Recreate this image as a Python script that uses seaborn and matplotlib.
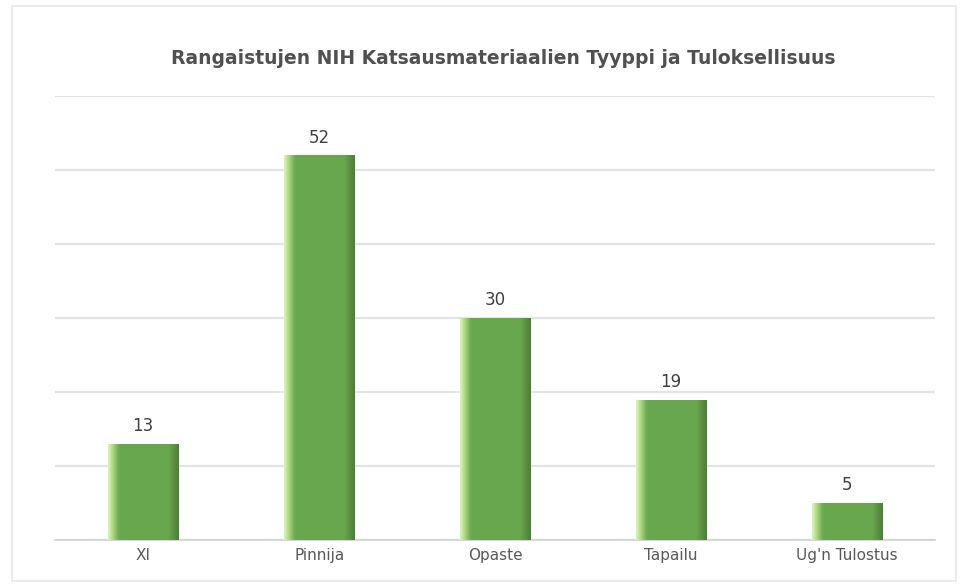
import matplotlib
matplotlib.use("Agg")
import matplotlib.pyplot as plt
from matplotlib.patches import Rectangle
import numpy as np
import pandas as pd
import seaborn as sns

categories = ["XI", "Pinnija", "Opaste", "Tapailu", "Ug'n Tulostus"]
values = [13, 52, 30, 19, 5]
title = "Rangaistujen NIH Katsausmateriaalien Tyyppi ja Tuloksellisuus"

sns.set_theme(style="white")
plt.rcParams["font.family"] = ["DejaVu Sans"]

df = pd.DataFrame({"category": categories, "value": values})

fig = plt.figure(figsize=(9.68, 5.87), dpi=100)
ax = fig.add_axes([0.057, 0.080, 0.909, 0.756])

sns.barplot(data=df, x="category", y="value", color="#6aa84f",
            width=0.4, saturation=1, ax=ax, zorder=3)

# soft cylinder-like shading across each bar
cmap = matplotlib.colors.LinearSegmentedColormap.from_list(
    "barshade", ["#d9f7a8", "#6aa84f", "#4f7f3a"])
grad = np.linspace(0, 1, 64)
grad = np.where(grad < 0.15, grad / 0.15 * 0.5,
                np.where(grad > 0.85, 0.5 + (grad - 0.85) / 0.15 * 0.5, 0.5))
for patch in ax.patches:
    x0, y0 = patch.get_x(), patch.get_y()
    w, h = patch.get_width(), patch.get_height()
    im = ax.imshow(grad[np.newaxis, :], cmap=cmap, aspect="auto",
                   extent=(x0, x0 + w, y0, y0 + h), zorder=4,
                   interpolation="bicubic")
    im.set_clip_path(patch)

ax.set_xlim(-0.5, len(categories) - 0.5)
ax.set_ylim(0, 60)
ax.set_yticks(np.arange(0, 61, 10))
ax.set_yticklabels([])
ax.tick_params(axis="y", length=0)
ax.yaxis.grid(True, color="#e3e3e3", linewidth=1.6, zorder=0)
ax.set_axisbelow(True)
for side in ["top", "right", "left"]:
    ax.spines[side].set_visible(False)
ax.spines["bottom"].set_color("#d0d0d0")
ax.spines["bottom"].set_linewidth(1.2)
ax.tick_params(axis="x", length=0, pad=6, labelsize=11, labelcolor="#595959")
ax.set_xlabel("")
ax.set_ylabel("")

for i, v in enumerate(values):
    ax.text(i, v + 1.2, str(v), ha="center", va="bottom",
            fontsize=12, color="#404040", zorder=5)

fig.text(0.52, 0.900, title, ha="center", va="center",
         fontsize=13.5, color="#505050", fontweight="semibold")

fig.patches.append(Rectangle((0.012, 0.01), 0.976, 0.98, transform=fig.transFigure,
                             fill=False, edgecolor="#e6e6e6", linewidth=1.2))

fig.savefig("out.png", dpi=100, facecolor="white")
